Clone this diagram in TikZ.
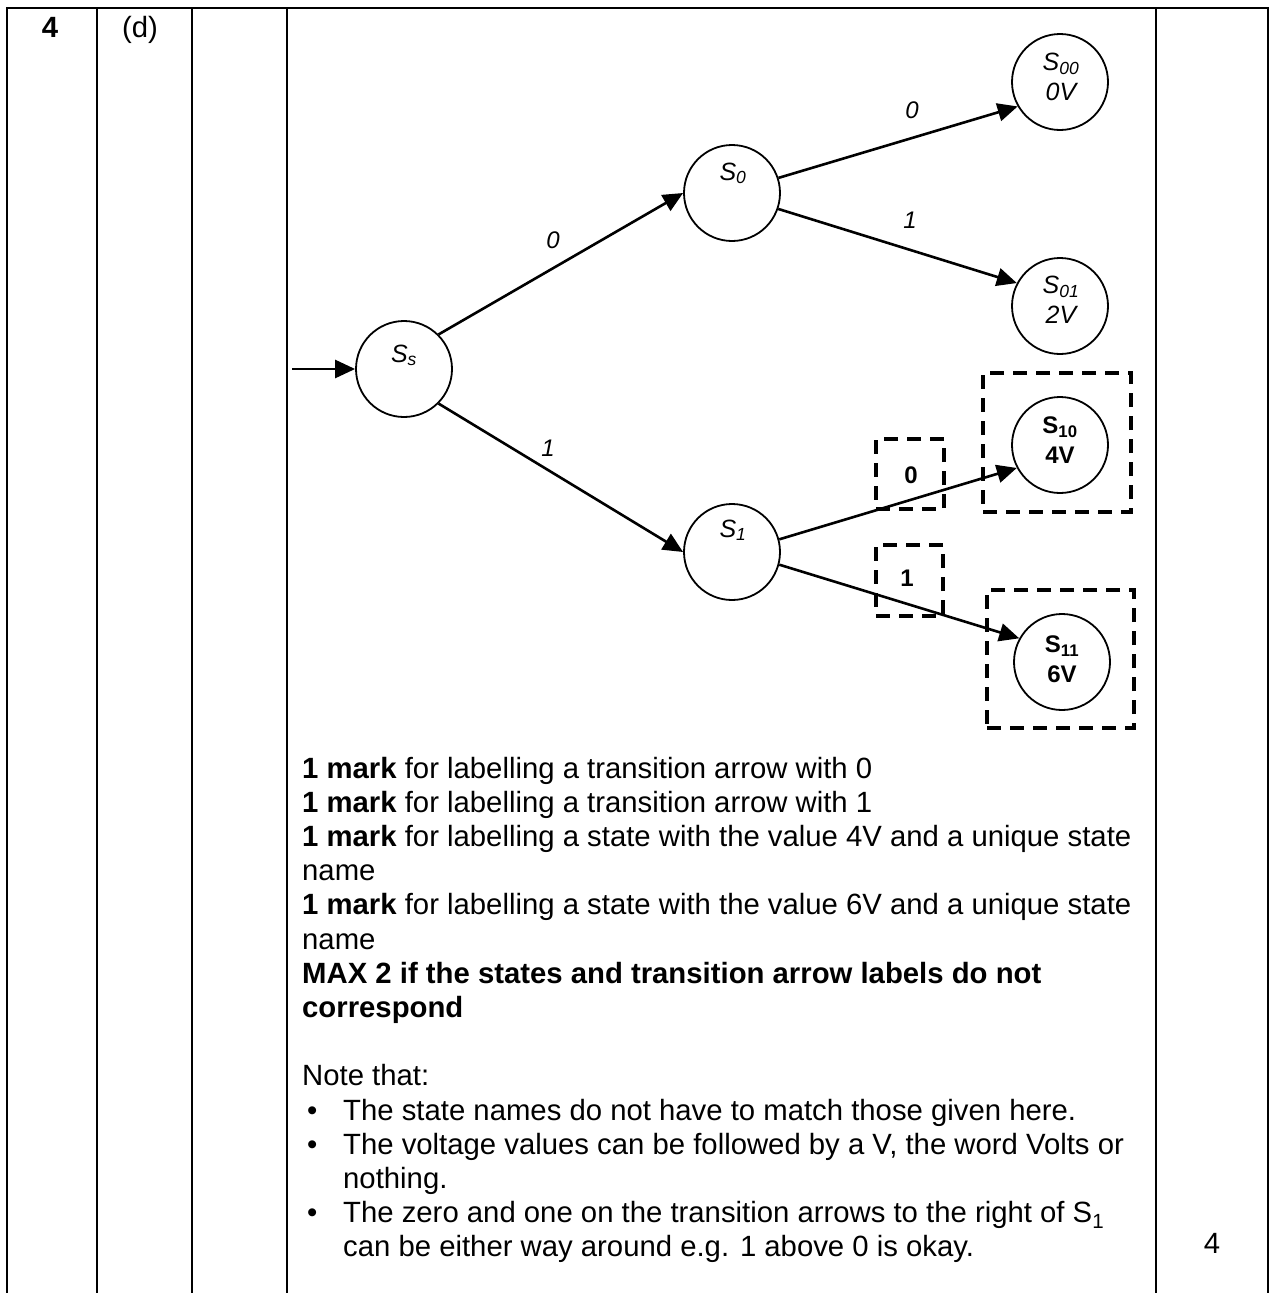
\documentclass[tikz,border=0pt]{standalone}
\usepackage{fontspec}
\setmainfont{Liberation Sans}
\usetikzlibrary{arrows.meta}
\begin{document}
\begin{tikzpicture}[x=1pt,y=-1pt,
  tbl/.style={line width=2.6pt},
  st/.style={circle,draw,line width=1.8pt,minimum size=96pt,inner sep=0pt},
  edge/.style={line width=2.6pt,-{Triangle[length=20pt,width=18pt]}},
  dbox/.style={draw,rectangle,line width=3.6pt,dash pattern=on 14pt off 9pt,inner sep=0pt},
  lab/.style={font=\fontsize{25}{30}\selectfont\itshape,inner sep=0pt,align=center},
  blab/.style={font=\fontsize{24}{30}\selectfont\bfseries,inner sep=0pt,align=center},
  elab/.style={font=\fontsize{24}{28}\selectfont\itshape,inner sep=0pt},
  belab/.style={font=\fontsize{24}{28}\selectfont\bfseries,inner sep=0pt},
  txt/.style={anchor=base west,inner sep=0pt,font=\fontsize{29.3}{34}\selectfont},
  hdr/.style={anchor=base,inner sep=0pt,font=\fontsize{29.3}{34}\selectfont}
]
\useasboundingbox (0,0) rectangle (1269,1293);
% table
\draw[tbl] (7,1293) -- (7,8) -- (1268,8) -- (1268,1293);
\foreach \xx in {97,192,287,1156} \draw[tbl] (\xx,8) -- (\xx,1293);
\node[hdr,font=\fontsize{29.3}{34}\selectfont\bfseries] (qn) at (50,37) {4};
\node[hdr] (qp) at (140,37) {(d)};
\node[hdr] (mk) at (1212,1253) {4};

% dashed boxes
\node[dbox,minimum width=148pt,minimum height=139pt] (b10) at (1057,442.5) {};
\node[dbox,minimum width=147pt,minimum height=138pt] (b11) at (1060.5,659) {};
\node[dbox,minimum width=68pt,minimum height=70pt] (be0) at (910,474) {};
\node[dbox,minimum width=67pt,minimum height=71pt] (be1) at (909.5,580.5) {};

% states
\node[st] (Ss) at (404,369) {};
\node[st] (S0) at (732,193) {};
\node[st] (S1) at (732,552) {};
\node[st] (S00) at (1060,82) {};
\node[st] (S01) at (1060,306) {};
\node[st] (S10) at (1060,445) {};
\node[st] (S11) at (1062,662) {};

\node[lab,anchor=base] (lSs) at (404,362) {S\textsubscript{s}};
\node[lab,anchor=base] (lS0) at (733,180) {S\textsubscript{0}};
\node[lab,anchor=base] (lS1) at (733,537) {S\textsubscript{1}};
\node[lab] (lS00) at (1061,77) {S\textsubscript{00}\\0V};
\node[lab] (lS01) at (1061,300) {S\textsubscript{01}\\2V};
\node[blab] (lS10) at (1060,440) {S\textsubscript{10}\\4V};
\node[blab] (lS11) at (1062,659) {S\textsubscript{11}\\6V};

% connectors
\coordinate (in) at (292,369);
\draw[edge] (in) -- (Ss);
\draw[edge] (Ss.north east) -- (S0.west);
\draw[edge] (Ss.south east) -- (S1.west);
\draw[edge] (S0.18) -- (S00.210);
\draw[edge] (S0.-19) -- (S01.152);
\draw[edge] (S1.15) -- (S10.208);
\draw[edge] (S1.-15) -- (S11.151);

\node[elab] (e1) at (553,240) {0};
\node[elab] (e2) at (548,448) {1};
\node[elab] (e3) at (912,110) {0};
\node[elab] (e4) at (910,220) {1};
\node[belab] (e5) at (911,475) {0};
\node[belab] (e6) at (907,578) {1};

% text
\node[txt] (t0) at (302,778) {\textbf{1 mark} for labelling a transition arrow with 0};
\node[txt] (t1) at (302,812.2) {\textbf{1 mark} for labelling a transition arrow with 1};
\node[txt] (t2) at (302,846.4) {\textbf{1 mark} for labelling a state with the value 4V and a unique state};
\node[txt] (t3) at (302,880.6) {name};
\node[txt] (t4) at (302,914.8) {\textbf{1 mark} for labelling a state with the value 6V and a unique state};
\node[txt] (t5) at (302,949) {name};
\node[txt] (t6) at (302,983.2) {\textbf{MAX 2 if the states and transition arrow labels do not}};
\node[txt] (t7) at (302,1017.4) {\textbf{correspond}};
\node[txt] (t9) at (302,1085.8) {Note that:};
\node[txt] (u1) at (307,1120) {•};
\node[txt] (t10) at (343,1120) {The state names do not have to match those given here.};
\node[txt] (u2) at (307,1154.2) {•};
\node[txt] (t11) at (343,1154.2) {The voltage values can be followed by a V, the word Volts or};
\node[txt] (t12) at (343,1188.4) {nothing.};
\node[txt] (u3) at (307,1222.6) {•};
\node[txt] (t13) at (343,1222.6) {The zero and one on the transition arrows to the right of S\textsubscript{1}};
\node[txt] (t14) at (343,1256.8) {can be either way around e.g. 1 above 0 is okay.};
\end{tikzpicture}
\end{document}
